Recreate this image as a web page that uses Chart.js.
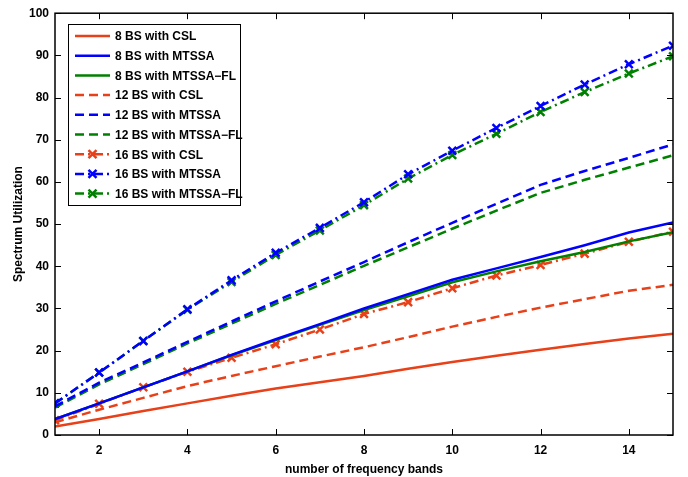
<!DOCTYPE html>
<html>
<head>
<meta charset="utf-8">
<script src="https://cdn.jsdelivr.net/npm/chart.js@4.4.1/dist/chart.umd.min.js"></script>
<style>
  html, body { margin: 0; padding: 0; background: #fff; }
  #wrap { width: 688px; height: 477px; }
</style>
</head>
<body>
<div id="wrap"><canvas id="su-chart"></canvas></div>
<script>
// number of frequency bands
const bands = [1, 2, 3, 4, 5, 6, 7, 8, 9, 10, 11, 12, 13, 14, 15];
const xTicks = [2, 4, 6, 8, 10, 12, 14];
const yTicks = [0, 10, 20, 30, 40, 50, 60, 70, 80, 90, 100];

// spectrum utilization
const bs8CSL      = [2, 3.8, 5.7, 7.5, 9.3, 11, 12.5, 14, 15.7, 17.3, 18.8, 20.2, 21.6, 22.9, 24];
const bs8MTSSA    = [3.8, 7.5, 11.3, 15.1, 19, 22.7, 26.3, 30, 33.4, 36.8, 39.5, 42.2, 45, 48, 50.4];
const bs8MTSSAFL  = [3.8, 7.5, 11.3, 15.1, 18.9, 22.5, 26.1, 29.6, 32.9, 36.2, 38.8, 41.2, 43.4, 45.9, 48.1];
const bs12CSL     = [3, 6, 8.8, 11.6, 14, 16.3, 18.6, 20.8, 23.2, 25.7, 28, 30.2, 32.2, 34.2, 35.6];
const bs12MTSSA   = [6.8, 12.4, 17.2, 22.1, 26.9, 31.7, 36.4, 41, 45.7, 50.3, 54.8, 59.3, 62.6, 65.7, 68.9];
const bs12MTSSAFL = [6.5, 12, 16.8, 21.7, 26.4, 31.1, 35.6, 40.1, 44.5, 48.9, 53.2, 57.4, 60.5, 63.4, 66.3];
const bs16CSL     = [3.5, 7.4, 11.3, 15, 18.3, 21.5, 25, 28.7, 31.5, 34.8, 37.8, 40.3, 43, 45.8, 48.2];
const bs16MTSSA   = [7.5, 14.8, 22.3, 29.8, 36.7, 43.2, 49.1, 55.2, 61.8, 67.4, 72.8, 78, 83.1, 87.9, 92.3];
const bs16MTSSAFL = [7.5, 14.8, 22.3, 29.7, 36.3, 42.7, 48.5, 54.5, 60.8, 66.4, 71.4, 76.6, 81.3, 85.7, 89.8];

const RED = 'rgb(232,64,24)';
const BLUE = 'rgb(0,0,255)';
const GREEN = 'rgb(0,128,0)';
const DASH = [9, 5];
const DASHDOT = [9, 4, 2, 4];
const FONT = '"Liberation Sans", Arial, sans-serif';

function series(label, values, color, dash, marker) {
    return {
        label: label,
        data: values.map((v, i) => ({ x: bands[i], y: v })),
        borderColor: color,
        backgroundColor: color,
        borderWidth: 2.5,
        borderDash: dash,
        pointStyle: 'crossRot',
        pointRadius: marker ? 5.5 : 0,
        pointBorderWidth: 2.5,
        pointHoverRadius: marker ? 5.5 : 0,
        tension: 0,
        fill: false
    };
}

// inward ticks on all four sides plus a closed box, matlab style
const boxTicks = {
    id: 'boxTicks',
    afterDraw(chart) {
        const { ctx, chartArea: a, scales } = chart;
        ctx.save();
        ctx.strokeStyle = '#000';
        ctx.lineWidth = 1.5;
        ctx.strokeRect(a.left, a.top, a.right - a.left, a.bottom - a.top);
        ctx.lineWidth = 1;
        ctx.beginPath();
        xTicks.forEach(t => {
            const px = Math.round(scales.x.getPixelForValue(t)) + 0.5;
            ctx.moveTo(px, a.bottom); ctx.lineTo(px, a.bottom - 6);
            ctx.moveTo(px, a.top); ctx.lineTo(px, a.top + 6);
        });
        yTicks.forEach(t => {
            const py = Math.round(scales.y.getPixelForValue(t)) + 0.5;
            ctx.moveTo(a.left, py); ctx.lineTo(a.left + 6, py);
            ctx.moveTo(a.right, py); ctx.lineTo(a.right - 6, py);
        });
        ctx.stroke();
        ctx.restore();
    }
};

// legend box inside the axes, top-left
const boxLegend = {
    id: 'boxLegend',
    afterDraw(chart) {
        const ctx = chart.ctx;
        const x0 = 68, y0 = 24, w = 172, h = 181, row = 19.7;
        ctx.save();
        ctx.fillStyle = '#fff';
        ctx.fillRect(x0, y0, w, h);
        ctx.strokeStyle = '#000';
        ctx.lineWidth = 1;
        ctx.strokeRect(x0 + 0.5, y0 + 0.5, w, h);
        chart.data.datasets.forEach((ds, i) => {
            const y = y0 + 12 + i * row;
            ctx.strokeStyle = ds.borderColor;
            ctx.lineWidth = 2.5;
            ctx.setLineDash(ds.borderDash || []);
            ctx.beginPath();
            ctx.moveTo(75, y); ctx.lineTo(110, y);
            ctx.stroke();
            ctx.setLineDash([]);
            if (ds.pointRadius > 0) {
                const r = 4;
                ctx.beginPath();
                ctx.moveTo(92.5 - r, y - r); ctx.lineTo(92.5 + r, y + r);
                ctx.moveTo(92.5 - r, y + r); ctx.lineTo(92.5 + r, y - r);
                ctx.stroke();
            }
            ctx.fillStyle = '#000';
            ctx.font = 'bold 12px ' + FONT;
            ctx.textBaseline = 'middle';
            ctx.fillText(ds.label, 115, y + 1);
        });
        ctx.restore();
    }
};

const ctx = document.getElementById('su-chart').getContext('2d');
const chart = new Chart(ctx, {
    type: 'line',
    data: {
        datasets: [
            series('8 BS with CSL', bs8CSL, RED, [], false),
            series('8 BS with MTSSA', bs8MTSSA, BLUE, [], false),
            series('8 BS with MTSSA\u2212FL', bs8MTSSAFL, GREEN, [], false),
            series('12 BS with CSL', bs12CSL, RED, DASH, false),
            series('12 BS with MTSSA', bs12MTSSA, BLUE, DASH, false),
            series('12 BS with MTSSA\u2212FL', bs12MTSSAFL, GREEN, DASH, false),
            series('16 BS with CSL', bs16CSL, RED, DASHDOT, true),
            series('16 BS with MTSSA', bs16MTSSA, BLUE, DASHDOT, true),
            series('16 BS with MTSSA\u2212FL', bs16MTSSAFL, GREEN, DASHDOT, true)
        ]
    },
    options: {
        responsive: true,
        maintainAspectRatio: false,
        animation: false,
        layout: { padding: { left: 11, right: 15, top: 9, bottom: 0 } },
        plugins: {
            legend: { display: false },
            tooltip: { enabled: false }
        },
        scales: {
            x: {
                type: 'linear',
                min: 1,
                max: 15,
                afterBuildTicks: axis => { axis.ticks = xTicks.map(v => ({ value: v })); },
                afterFit: axis => { axis.height = 42; },
                grid: { display: false, drawTicks: false },
                border: { display: false },
                ticks: {
                    color: '#000',
                    padding: 8,
                    maxRotation: 0,
                    font: { family: FONT, size: 12, weight: 'bold' }
                },
                title: {
                    display: true,
                    text: 'number of frequency bands',
                    color: '#000',
                    padding: { top: 3, bottom: 0 },
                    font: { family: FONT, size: 12, weight: 'bold' }
                }
            },
            y: {
                min: 0,
                max: 100,
                afterBuildTicks: axis => { axis.ticks = yTicks.map(v => ({ value: v })); },
                afterFit: axis => { axis.width = 44; },
                grid: { display: false, drawTicks: false },
                border: { display: false },
                ticks: {
                    color: '#000',
                    padding: 6,
                    font: { family: FONT, size: 12, weight: 'bold' }
                },
                title: {
                    display: true,
                    text: 'Spectrum Utilization',
                    color: '#000',
                    padding: { top: 0, bottom: 0 },
                    font: { family: FONT, size: 12, weight: 'bold' }
                }
            }
        }
    },
    plugins: [boxTicks, boxLegend]
});
</script>
</body>
</html>
